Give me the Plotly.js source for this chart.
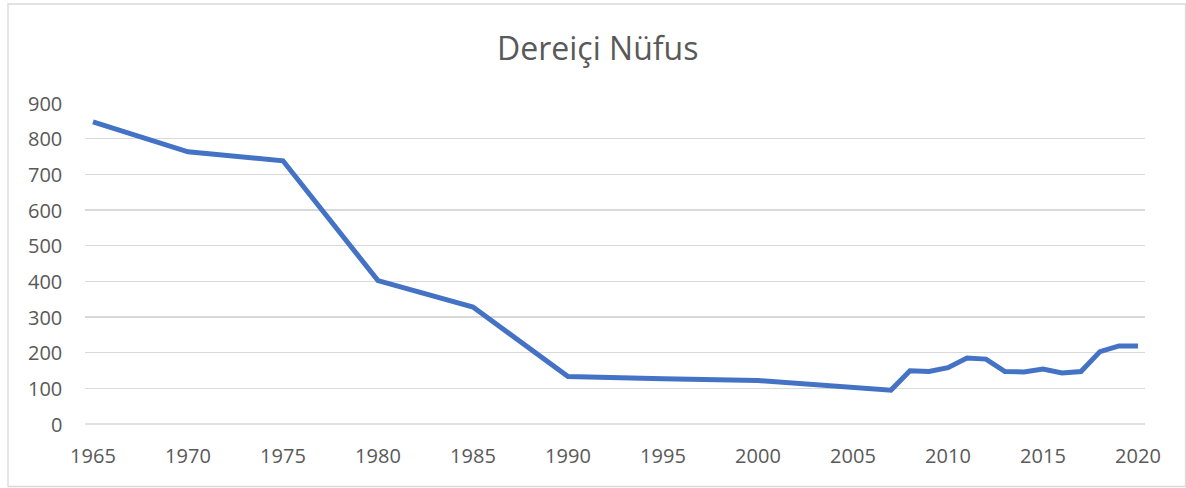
<!DOCTYPE html>
<html>
<head>
<meta charset="utf-8">
<script src="https://cdn.plot.ly/plotly-3.0.1.min.js"></script>
<style>
html,body{margin:0;padding:0;background:#fff;}
#chart{width:1186px;height:488px;}
</style>
</head>
<body>
<div id="chart"></div>
<script>
const years = [1965, 1970, 1975, 1980, 1985, 1990, 1995, 2000, 2007, 2008, 2009, 2010, 2011, 2012, 2013, 2014, 2015, 2016, 2017, 2018, 2019, 2020];
const population = [847, 763, 738, 402, 328, 133, 127, 122, 95, 149, 147, 158, 185, 182, 147, 146, 154, 143, 147, 203, 219, 219];
const xTicks = [1965, 1970, 1975, 1980, 1985, 1990, 1995, 2000, 2005, 2010, 2015, 2020];
const yTicks = [0, 100, 200, 300, 400, 500, 600, 700, 800, 900];
const chartTitle = "Dereiçi Nüfus";

const W = 1186, H = 488;
const m = {l: 85, r: 41, t: 103, b: 64};
const pw = W - m.l - m.r, ph = H - m.t - m.b;
const font = "'Open Sans', 'Noto Sans', sans-serif";

const trace = {
  x: years, y: population, type: 'scatter', mode: 'lines',
  line: {color: '#4472C4', width: 5},
  hoverinfo: 'x+y'
};

const yLabelAnnotations = yTicks.map(v => ({
  xref: 'paper', yref: 'y', x: 0, y: v,
  xanchor: 'right', yanchor: 'middle', xshift: -21,
  text: String(v), showarrow: false,
  font: {family: font, size: 20, color: '#595959'}
}));

const layout = {
  width: W, height: H,
  margin: m,
  paper_bgcolor: '#fff', plot_bgcolor: '#fff',
  showlegend: false,
  title: {text: chartTitle, x: 0.504, xanchor: 'center', y: 0.9, yanchor: 'middle',
          font: {family: font, size: 32, color: '#595959'}},
  xaxis: {
    range: [1964.58, 2020.37],
    tickvals: xTicks, ticktext: xTicks.map(String),
    showgrid: false, zeroline: false, showline: false, ticks: '',
    ticklabelstandoff: 18,
    tickfont: {family: font, size: 20, color: '#595959'}
  },
  yaxis: {
    range: [0, 900],
    tickvals: yTicks, showticklabels: false,
    showgrid: true, gridcolor: '#d9d9d9', gridwidth: 1.3,
    zeroline: false, showline: false, ticks: ''
  },
  annotations: yLabelAnnotations,
  shapes: [
    {type: 'line', xref: 'paper', yref: 'paper', x0: 0, x1: 1, y0: 0, y1: 0,
     line: {color: '#d9d9d9', width: 1.3}, layer: 'below'},
    {type: 'rect', xref: 'paper', yref: 'paper',
     x0: (8 - m.l) / pw, x1: (1185.5 - m.l) / pw,
     y0: (H - 486.5 - m.b) / ph, y1: (H - 4 - m.b) / ph,
     line: {color: '#d9d9d9', width: 1.3}, fillcolor: 'rgba(0,0,0,0)'}
  ]
};

Plotly.newPlot('chart', [trace], layout, {displayModeBar: false, staticPlot: true});
</script>
</body>
</html>
